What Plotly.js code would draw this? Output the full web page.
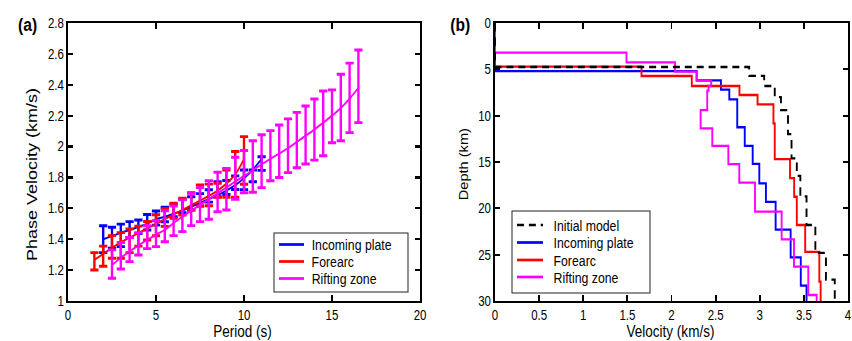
<!DOCTYPE html>
<html><head><meta charset="utf-8">
<script src="https://cdn.plot.ly/plotly-3.0.1.min.js"></script>
<style>
html,body{margin:0;padding:0;background:#fff;overflow:hidden}
#wrap{width:852px;height:341px;overflow:hidden}
#chart{width:1039px;height:341px;transform:scaleX(0.82002);transform-origin:0 0}
</style>
</head><body><div id="wrap"><div id="chart"></div></div>
<script>
// ---------- Panel (a): dispersion curves ----------
const periodBlue = [2,2.5,3,3.5,4,4.5,5,5.5,6,6.5,7,7.5,8,8.5,9,9.5,10,10.5,11];
const obsBlue    = [1.40,1.41,1.425,1.463,1.48,1.51,1.537,1.56,1.586,1.615,1.632,1.655,1.68,1.724,1.735,1.766,1.784,1.81,1.89];
const errBlue    = [0.087,0.068,0.073,0.051,0.044,0.05,0.046,0.047,0.04,0.044,0.043,0.04,0.04,0.049,0.045,0.044,0.064,0.038,0.044];
const modelBlue  = [1.40,1.42,1.442,1.46,1.48,1.50,1.53,1.545,1.565,1.585,1.61,1.635,1.66,1.685,1.715,1.75,1.795,1.85,1.92];

const periodRed = [1.5,2,2.5,3,3.5,4,4.5,5,5.5,6,6.5,7,7.5,8,8.5,9,9.5,10];
const obsRed    = [1.257,1.29,1.35,1.36,1.39,1.42,1.455,1.49,1.54,1.584,1.611,1.645,1.683,1.687,1.717,1.76,1.82,1.91];
const errRed    = [0.056,0.065,0.073,0.083,0.077,0.065,0.06,0.068,0.057,0.049,0.054,0.056,0.068,0.07,0.045,0.088,0.148,0.154];
const modelRed  = [1.266,1.305,1.345,1.38,1.41,1.44,1.47,1.50,1.53,1.56,1.59,1.62,1.65,1.68,1.715,1.76,1.82,1.92];

const periodMag = [2.5,3,3.5,4,4.5,5,5.5,6,6.5,7,7.5,8,8.5,9,9.5,10,10.5,11,11.5,12,12.5,13,13.5,14,14.5,15,15.5,16,16.5];
const obsMag    = [1.239,1.293,1.333,1.37,1.413,1.436,1.484,1.519,1.552,1.593,1.624,1.654,1.706,1.724,1.795,1.837,1.871,1.905,1.941,1.97,2.005,2.042,2.075,2.11,2.15,2.196,2.253,2.315,2.39];
const errMag    = [0.092,0.086,0.078,0.072,0.074,0.084,0.10,0.096,0.103,0.105,0.11,0.125,0.128,0.135,0.136,0.137,0.167,0.171,0.162,0.17,0.174,0.179,0.188,0.198,0.21,0.171,0.215,0.225,0.235];
const modelMag  = [1.233,1.28,1.32,1.36,1.395,1.43,1.46,1.505,1.546,1.585,1.622,1.66,1.697,1.735,1.773,1.81,1.846,1.885,1.92,1.955,1.99,2.03,2.07,2.11,2.155,2.2,2.25,2.31,2.38];

// ---------- Panel (b): velocity profiles (layer top depth, layer velocity) ----------
const depthInit = [0,4.75,5.7,6.8,8.0,9.4,12.0,14.6,16.5,18.7,21.8,24.8,27.7];
const velInit   = [0,2.88,3.05,3.17,3.24,3.32,3.36,3.42,3.46,3.53,3.63,3.75,3.85];

const depthBlue = [0,5.2,6.2,7.2,8.25,11.25,13.25,15.2,17.3,19.3,22.3,25.3,28.35];
const velBlue   = [0,2.285,2.56,2.655,2.745,2.83,2.92,2.995,3.07,3.18,3.35,3.465,3.53];

const depthRed = [0,4.7,5.72,6.8,7.77,8.78,10.83,14.7,16.75,18.75,21.8,24.7,27.9];
const velRed   = [0,1.66,2.23,2.77,2.975,3.155,3.17,3.343,3.39,3.42,3.515,3.675,3.69];

const depthMag = [0,3.2,4.25,5.25,6.22,6.8,7.3,9.4,11.37,13.27,15.22,17.23,20.36,23.34,26.3,29.35];
const velMag   = [0,1.49,2.04,2.285,2.45,2.42,2.405,2.33,2.462,2.644,2.768,2.946,3.248,3.388,3.55,3.645];

const maxDepth = 30;
const legendA = ["Incoming plate","Forearc","Rifting zone"];
const legendB = ["Initial model","Incoming plate","Forearc","Rifting zone"];

const BLUE = "#0000ff", RED = "#ff0000", MAG = "#ff00ff", BLK = "#000000";
const FONT = "'Liberation Sans',Arial,sans-serif";
const DASH = "8.5px,6px";

function bars(x, y, e, c){
  return {x:x, y:y, type:"scatter", mode:"markers", marker:{size:1, color:"rgba(0,0,0,0)"},
    error_y:{type:"data", array:e, visible:true, color:c, thickness:2.9, width:5},
    showlegend:false, hoverinfo:"skip", xaxis:"x", yaxis:"y"};
}
function curve(x, y, c, name){
  return {x:x, y:y, type:"scatter", mode:"lines", line:{color:c, width:2, shape:"spline"},
    name:name, showlegend:false, xaxis:"x", yaxis:"y"};
}
function profile(d, v, c, name, dash){
  const xs = v.concat([v[v.length-1]]);
  const ys = d.concat([maxDepth]);
  return {x:xs, y:ys, type:"scatter", mode:"lines", line:{color:c, width:2.3, shape:"vh", dash:dash||"solid"},
    name:name, showlegend:false, xaxis:"x2", yaxis:"y2"};
}

const data = [
  bars(periodBlue, obsBlue, errBlue, BLUE), curve(periodBlue, modelBlue, BLUE, legendA[0]),
  bars(periodRed, obsRed, errRed, RED),     curve(periodRed, modelRed, RED, legendA[1]),
  bars(periodMag, obsMag, errMag, MAG),     curve(periodMag, modelMag, MAG, legendA[2]),
  profile(depthBlue, velBlue, BLUE, legendB[1]),
  profile(depthRed, velRed, RED, legendB[2]),
  profile(depthMag, velMag, MAG, legendB[3]),
  profile(depthInit, velInit, BLK, legendB[0], DASH)
];

// all positions below are expressed in final (on-screen) pixels of the 852x341 picture
const W = 852, H = 341, W0 = 1039;
const px = v => v / W, py = v => 1 - v / H;
const axBase = {showline:true, linewidth:2.2, linecolor:"#000", mirror:"ticks", ticks:"inside", ticklen:6,
  tickwidth:2.2, tickcolor:"#000", showgrid:false, zeroline:false, automargin:false,
  tickfont:{family:FONT, size:14, color:"#000"}};

const shapes = [], annotations = [];
function legendBox(x0, y0, x1, y1, names, colors, dashes, rowY, lineX0, lineX1, textX){
  shapes.push({type:"rect", xref:"paper", yref:"paper", x0:px(x0), x1:px(x1), y0:py(y0), y1:py(y1),
    line:{color:"#222", width:1.2}, fillcolor:"#fff", layer:"above"});
  names.forEach((n, i) => {
    shapes.push({type:"line", xref:"paper", yref:"paper", x0:px(lineX0), x1:px(lineX1), y0:py(rowY[i]), y1:py(rowY[i]),
      line:{color:colors[i], width:2.7, dash:dashes[i]}, layer:"above"});
    annotations.push({text:n, x:px(textX), y:py(rowY[i]), xref:"paper", yref:"paper", xanchor:"left", yanchor:"middle",
      showarrow:false, font:{family:FONT, size:15, color:"#000"}});
  });
}
legendBox(274, 233, 408, 292, legendA, [BLUE, RED, MAG], ["solid","solid","solid"], [244.5, 261.5, 278.5], 279, 304, 310);
legendBox(512, 211, 650, 293, legendB, [BLK, BLUE, RED, MAG], [DASH,"solid","solid","solid"], [225, 242.5, 260, 277], 517, 543, 551.5);

function label(text, x, y, size, bold, angle){
  annotations.push({text: bold ? "<b>"+text+"</b>" : text, x:px(x), y:py(y), xref:"paper", yref:"paper",
    xanchor:"center", yanchor:"middle", showarrow:false, textangle:angle||0, borderpad:0,
    font:{family:FONT, size:size, color:"#000"}});
}
label("(a)", 27.5, 24, 19, true);
label("(b)", 460, 24, 19, true);
label("Phase Velocity (km/s)", 32, 175, 18, false, -90);
label("Depth (km)", 463.5, 164, 14.6, false, -90);
label("Period (s)", 243, 330.5, 16.5, false);
label("Velocity (km/s)", 670, 330.5, 16.5, false);

const layout = {
  width:W0, height:H, margin:{l:0,r:0,t:0,b:0}, paper_bgcolor:"#fff", plot_bgcolor:"#fff",
  showlegend:false,
  xaxis:Object.assign({}, axBase, {domain:[px(68), px(420)], range:[0,20], tickvals:[0,5,10,15,20], anchor:"y"}),
  yaxis:Object.assign({}, axBase, {domain:[40/H, 318/H], range:[1,2.8], dtick:0.2, tick0:1, anchor:"x"}),
  xaxis2:Object.assign({}, axBase, {domain:[px(495), px(848)], range:[0,4], dtick:0.5, tick0:0, anchor:"y2"}),
  yaxis2:Object.assign({}, axBase, {domain:[40/H, 318/H], range:[30,0], dtick:5, tick0:0, anchor:"x2"}),
  shapes:shapes, annotations:annotations
};

Plotly.newPlot("chart", data, layout, {staticPlot:true, displayModeBar:false});
</script>
</body></html>
